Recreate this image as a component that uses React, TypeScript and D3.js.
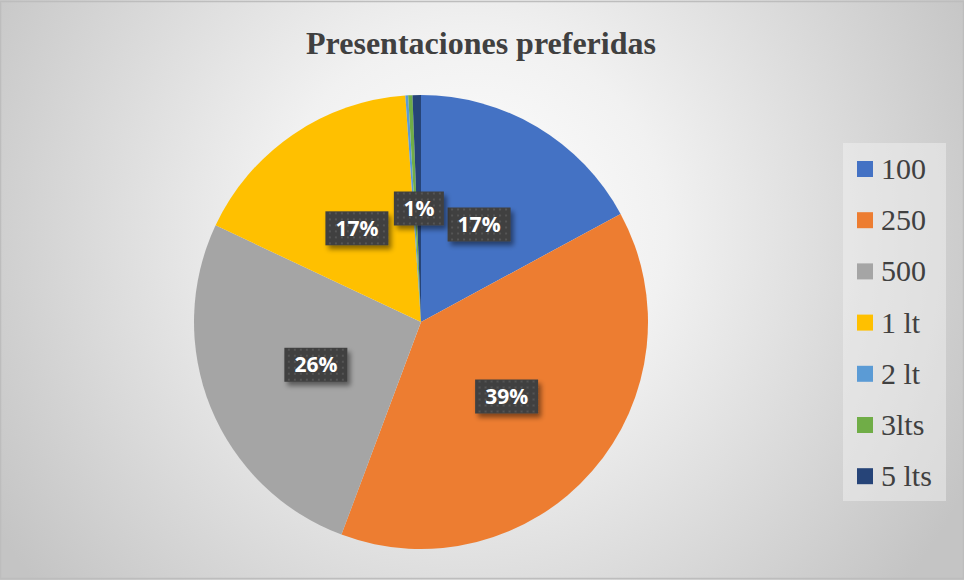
import React, { useRef, useEffect } from "react";
import * as d3 from "d3";

const categories = ["100", "250", "500", "1 lt", "2 lt", "3lts", "5 lts"];
const shares = [17.1, 38.6, 26.3, 16.9, 0.2, 0.3, 0.6];
const palette = ["#4472C4", "#ED7D31", "#A5A5A5", "#FFC000", "#5B9BD5", "#70AD47", "#264478"];
const chartTitle = "Presentaciones preferidas";

const App = () => {
  const svgRef = useRef<SVGSVGElement>(null);

  useEffect(() => {
    const width = 964;
    const height = 580;
    const cx = 421;
    const cy = 322;
    const radius = 227;

    const svg = d3.select(svgRef.current);
    svg.selectAll("*").remove();

    const defs = svg.append("defs");

    // ─── background ─────────────────────────────────────────
    const bg = defs.append("radialGradient")
      .attr("id", "bg-grad")
      .attr("gradientUnits", "userSpaceOnUse")
      .attr("cx", 470).attr("cy", 230).attr("r", 560);
    bg.append("stop").attr("offset", "0%").attr("stop-color", "#ffffff");
    bg.append("stop").attr("offset", "35%").attr("stop-color", "#f1f1f1");
    bg.append("stop").attr("offset", "100%").attr("stop-color", "#c4c4c4");

    const dots = defs.append("pattern")
      .attr("id", "label-dots")
      .attr("patternUnits", "userSpaceOnUse")
      .attr("width", 6).attr("height", 6);
    dots.append("rect").attr("width", 6).attr("height", 6).attr("fill", "#404040");
    dots.append("rect").attr("x", 2).attr("y", 2).attr("width", 2).attr("height", 2).attr("fill", "#545454");

    const shadow = defs.append("filter")
      .attr("id", "label-shadow")
      .attr("x", "-20%").attr("y", "-20%").attr("width", "150%").attr("height", "160%");
    shadow.append("feDropShadow")
      .attr("dx", 3).attr("dy", 4).attr("stdDeviation", 2.5)
      .attr("flood-color", "#000").attr("flood-opacity", 0.45);

    svg.append("rect")
      .attr("x", 0).attr("y", 0).attr("width", width).attr("height", height)
      .attr("fill", "url(#bg-grad)");
    svg.append("rect")
      .attr("x", 0.5).attr("y", 1.5).attr("width", width - 1).attr("height", height - 3)
      .attr("fill", "none").attr("stroke", "#bdbdbd").attr("stroke-width", 1.5);

    // ─── title ─────────────────────────────────────────────
    svg.append("text")
      .attr("x", 481).attr("y", 54)
      .attr("text-anchor", "middle")
      .attr("font-family", "'Liberation Serif', 'Times New Roman', serif")
      .attr("font-weight", "bold")
      .attr("font-size", 32)
      .attr("fill", "#404040")
      .text(chartTitle);

    // ─── pie ───────────────────────────────────────────────
    const data = categories.map((c, i) => ({ name: c, value: shares[i], color: palette[i] }));
    const pie = d3.pie<any>().value((d) => d.value).sort(null);
    const arcs = pie(data);
    const arc = d3.arc<any>().innerRadius(0).outerRadius(radius);

    const g = svg.append("g").attr("transform", `translate(${cx},${cy})`);
    g.selectAll("path")
      .data(arcs)
      .join("path")
      .attr("d", arc)
      .attr("fill", (d) => d.data.color);

    // ─── data labels ───────────────────────────────────────
    const labelled = arcs.filter((d) => Math.round(d.data.value) > 0);
    const pct = (d: any) => `${Math.round(d.data.value)}%`;
    const lg = g.selectAll("g.lbl")
      .data(labelled)
      .join("g")
      .attr("class", "lbl")
      .attr("transform", (d) => {
        const [x, y] = arc.centroid(d);
        return `translate(${x},${y})`;
      });

    lg.append("rect")
      .attr("x", (d) => -(13 * pct(d).length + 24) / 2)
      .attr("y", -17)
      .attr("width", (d) => 13 * pct(d).length + 24)
      .attr("height", 34)
      .attr("fill", "url(#label-dots)")
      .attr("filter", "url(#label-shadow)");

    lg.append("text")
      .attr("text-anchor", "middle")
      .attr("dy", "0.36em")
      .attr("font-family", "'Open Sans', 'Liberation Sans', sans-serif")
      .attr("font-weight", "bold")
      .attr("font-size", 21)
      .attr("fill", "#ffffff")
      .text(pct);

    // ─── legend ────────────────────────────────────────────
    const legendTop = 169;
    const legendStep = 51.2;
    svg.append("rect")
      .attr("x", 843).attr("y", 143).attr("width", 103).attr("height", 358)
      .attr("fill", "#f4f4f4").attr("opacity", 0.45);

    const items = svg.append("g")
      .selectAll("g")
      .data(data)
      .join("g")
      .attr("transform", (_, i) => `translate(857,${legendTop + i * legendStep})`);

    items.append("rect")
      .attr("x", 0).attr("y", -8).attr("width", 16).attr("height", 16)
      .attr("fill", (d) => d.color);

    items.append("text")
      .attr("x", 24).attr("y", 10)
      .attr("font-family", "'Liberation Serif', 'Times New Roman', serif")
      .attr("font-size", 30)
      .attr("fill", "#404040")
      .text((d) => d.name);
  }, []);

  return (
    <svg
      ref={svgRef}
      width={964}
      height={580}
      style={{ position: "absolute", left: 0, top: 0, display: "block" }}
    />
  );
};

export default App;
